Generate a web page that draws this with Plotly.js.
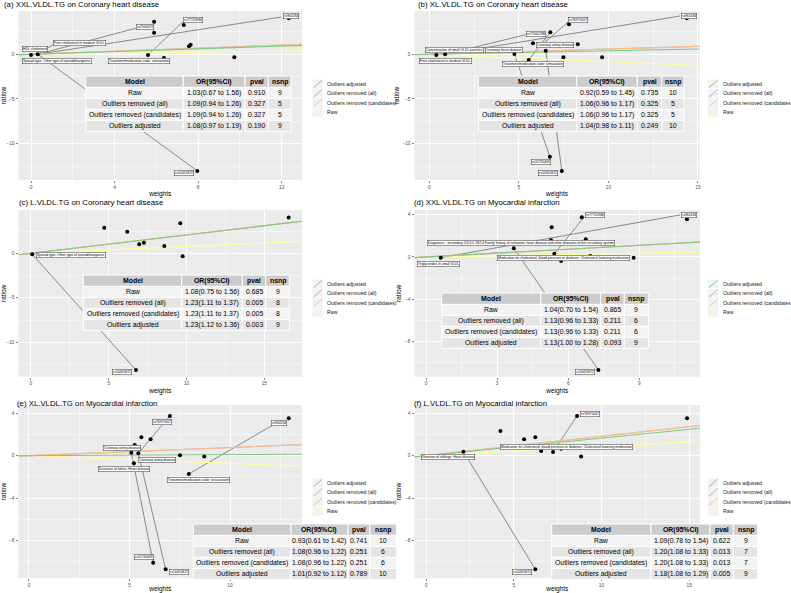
<!DOCTYPE html>
<html><head><meta charset="utf-8">
<script src="https://cdn.plot.ly/plotly-3.0.1.min.js"></script>
<style>html,body{margin:0;padding:0;background:#fff}#chart{width:791px;height:593px}</style>
</head><body><div id="chart"></div>
<script>
// ================= DATA =================
const panelTitles = [
  "(a) XXL.VLDL.TG on Coronary heart disease",
  "(b) XL.VLDL.TG on Coronary heart disease",
  "(c) L.VLDL.TG on Coronary heart disease",
  "(d) XXL.VLDL.TG on Myocardial infarction",
  "(e) XL.VLDL.TG on Myocardial infarction",
  "(f) L.VLDL.TG on Myocardial infarction"
];
const modelNames = ["Raw", "Outliers removed (all)", "Outliers removed (candidates)", "Outliers adjusted"];
const legendNames = ["Outliers adjusted", "Outliers removed (all)", "Outliers removed (candidates)", "Raw"];
const tableHeader = ["Model", "OR(95%CI)", "pval", "nsnp"];

// (a)
const aW = [0.00, 0.32, 5.89, 5.89, 7.31, 7.56, 7.64, 5.60, 6.36, 9.73, 7.96, 12.34];
const aR = [-0.08, 0.00, 3.65, 2.42, 3.28, 0.89, 1.07, -0.08, -0.41, -0.34, -13.05, 4.03];
const aLabText = ["HDL cholesterol", "Free cholesterol in medium VLDL", "rs2954029", "rs77720986",
  "Spread type: Other type of spread/margarine", "Treatment/medication code: simvastatin", "rs10455872", "rs964184"];
const aLabX = [0.18, 2.34, 5.45, 7.73, 1.23, 5.17, 7.32, 12.42];
const aLabY = [0.57, 1.29, 3.09, 3.84, -0.73, -0.73, -13.33, 4.30];
const aSegX0 = [0.32, 0.32, 1.07, 5.60, 0.32];
const aSegY0 = [0.00, 0.00, 1.10, -0.08, 0.00];
const aSegX1 = [5.06, 12.00, 0.32, 7.26, 7.96];
const aSegY1 = [2.94, 4.17, 0.00, 3.61, -13.05];
const aOR = [1.03, 1.09, 1.09, 1.08], aLo = [0.67, 0.94, 0.94, 0.97], aHi = [1.56, 1.26, 1.26, 1.19];
const aP = [0.910, 0.327, 0.327, 0.190], aN = [9, 5, 5, 9];

// (b)
const bW = [0.39, 0.88, 7.80, 6.76, 5.79, 6.28, 8.29, 4.75, 6.50, 5.55, 7.49, 9.65, 6.73, 7.40, 14.38];
const bR = [-0.08, 0.00, 3.35, 2.46, 1.23, 1.04, 1.12, 0.03, 0.40, -0.64, -0.34, -0.34, -11.45, -13.05, 4.03];
const bLabText = ["rs76975007", "rs72560788", "Concentration of small VLDL particles", "Coronary heart disease",
  "Coronary artery disease", "Free cholesterol in medium VLDL", "Treatment/medication code: simvastatin",
  "rs55730499", "rs10455872", "rs964184"];
const bLabX = [8.33, 5.98, 1.40, 4.19, 7.02, 0.92, 5.81, 6.26, 6.65, 14.49];
const bLabY = [3.87, 2.24, 0.50, 0.50, 1.04, -0.71, -1.14, -12.01, -13.33, 4.32];
const bSegX0 = [0.88, 0.88, 5.55, 6.28, 4.75, 6.50];
const bSegY0 = [0.00, 0.00, -0.64, 1.04, 0.03, 0.40];
const bSegX1 = [14.00, 5.40, 6.76, 7.75, 6.73, 7.40];
const bSegY1 = [4.28, 2.19, 2.46, 3.61, -11.45, -13.05];
const bOR = [0.92, 1.06, 1.06, 1.04], bLo = [0.59, 0.96, 0.96, 0.98], bHi = [1.45, 1.17, 1.17, 1.11];
const bP = [0.735, 0.325, 0.325, 0.249], bN = [10, 5, 5, 10];

// (c)
const cW = [0.08, 4.71, 6.19, 6.96, 7.26, 8.57, 9.60, 9.75, 16.56, 6.75];
const cR = [-0.11, 2.88, 2.43, 1.01, 1.19, 0.82, 3.37, -0.34, 4.04, -13.11];
const cLabText = ["Spread type: Other type of spread/margarine", "rs10455872"];
const cLabX = [2.56, 5.88];
const cLabY = [-0.15, -13.39];
const cSegX0 = [0.08], cSegY0 = [-0.11], cSegX1 = [6.75], cSegY1 = [-13.11];
const cOR = [1.08, 1.23, 1.23, 1.23], cLo = [0.75, 1.11, 1.11, 1.12], cHi = [1.56, 1.37, 1.37, 1.36];
const cP = [0.685, 0.005, 0.005, 0.003], cN = [9, 8, 8, 9];

// (d)
const dW = [0.62, 5.30, 6.57, 11.01, 5.27, 6.74, 3.70, 5.41, 6.93, 5.70, 8.76, 7.27];
const dR = [-0.07, 2.81, 3.76, 3.57, 1.58, 1.68, 0.82, 0.31, 0.09, -0.38, -0.07, -10.71];
const dLabText = ["rs77720986", "rs964184",
  "Diagnoses - secondary ICD10: Z82.4 Family history of ischaemic heart disease and other diseases of the circulatory system",
  "Triglycerides in small VLDL",
  "Medication for cholesterol, blood pressure or diabetes: Cholesterol lowering medication", "rs10455872"];
const dLabX = [7.12, 11.10, 4.00, 0.51, 5.78, 6.71];
const dLabY = [4.00, 4.00, 1.28, -0.66, -0.06, -10.93];
const dSegX0 = [0.62, 5.41, 3.70], dSegY0 = [-0.07, 0.31, 0.82];
const dSegX1 = [10.72, 6.67, 7.27], dSegY1 = [3.98, 3.76, -10.71];
const dOR = [1.04, 1.13, 1.13, 1.13], dLo = [0.70, 0.96, 0.96, 1.00], dHi = [1.54, 1.33, 1.33, 1.28];
const dP = [0.865, 0.211, 0.211, 0.093], dN = [9, 6, 6, 9];

// (e)
const eW = [7.01, 12.92, 5.59, 6.05, 5.26, 5.09, 5.44, 7.51, 8.72, 6.72, 5.22, 7.95, 6.18, 6.80];
const eR = [3.75, 3.53, 1.73, 1.55, 1.01, 0.28, 0.23, 0.04, -0.09, -0.41, -0.72, -1.73, -10.09, -10.72];
const eLabText = ["rs76975007", "rs964184", "Coronary artery disease", "Coronary artery disease",
  "Diseases of father: Heart disease", "Treatment/medication code: rosuvastatin", "rs55730499", "rs10455872"];
const eLabX = [6.63, 12.46, 4.65, 6.39, 4.71, 8.41, 5.73, 7.47];
const eLabY = [3.21, 3.04, 0.73, -0.41, -1.30, -2.25, -9.60, -10.95];
const eSegX0 = [5.44, 7.95, 5.09, 5.44], eSegY0 = [0.23, -1.73, 0.28, 0.23];
const eSegX1 = [7.01, 12.14, 6.18, 6.80], eSegY1 = [3.75, 2.90, -10.09, -10.72];
const eOR = [0.93, 1.08, 1.08, 1.01], eLo = [0.61, 0.96, 0.96, 0.92], eHi = [1.42, 1.22, 1.22, 1.12];
const eP = [0.741, 0.251, 0.251, 0.789], eN = [10, 6, 6, 10];

// (f)
const fW = [2.13, 4.24, 5.59, 6.23, 6.56, 7.24, 7.70, 8.61, 8.84, 14.88, 6.23];
const fR = [0.38, 2.33, 1.55, 1.74, 0.44, 0.35, 0.66, 3.75, -0.09, 3.53, -10.72];
const fLabText = ["rs76975007",
  "Medication for cholesterol, blood pressure or diabetes: Cholesterol lowering medication",
  "Illnesses of siblings: Heart disease", "rs10455872"];
const fLabX = [9.33, 8.03, 1.27, 5.48];
const fLabY = [3.92, 0.80, -0.10, -10.94];
const fSegX0 = [2.13, 7.24], fSegY0 = [0.38, 0.35];
const fSegX1 = [6.23, 8.61], fSegY1 = [-10.72, 3.75];
const fOR = [1.09, 1.20, 1.20, 1.18], fLo = [0.78, 1.08, 1.08, 1.08], fHi = [1.54, 1.33, 1.33, 1.29];
const fP = [0.622, 0.013, 0.013, 0.005], fN = [9, 7, 7, 9];

// ================= LAYOUT GEOMETRY (pixels) =================
const CW = 791, CH = 593;
const fx = p => p / CW, fy = p => 1 - p / CH;
const panelBox = [[18.5, 11, 302, 180], [414.5, 11, 699.5, 180], [18.5, 210, 302, 376.7],
                  [414.5, 210, 700, 376.7], [18.5, 405, 302, 578], [414.5, 405, 700, 578]];
const xRanges = [[-0.6, 12.97], [-0.83, 15.09], [-0.8, 17.42], [-0.49, 11.56], [-0.52, 13.58], [-0.66, 15.62]];
const yRanges = [[-14.06, 4.84], [-14.06, 4.84], [-13.87, 4.87], [-11.35, 4.45], [-11.54, 4.78], [-11.54, 4.78]];
const xDticks = [4, 5, 5, 3, 5, 5];
const yDticks = [5, 5, 5, 4, 4, 4];
const tableBox = [[85.7, 76, 291], [478.3, 76, 684], [83.3, 275, 289.3],
                  [441.7, 293, 648.3], [193.3, 524, 396.5], [551.7, 524, 757.7]];
const tableColW = [[97.6, 61.7, 23.3, 22.7], [98.4, 60.6, 24.4, 22.3], [98.4, 60.6, 23.4, 23.6],
                   [99, 60, 23.6, 24], [98, 57, 22, 26.7], [99.3, 59, 23.3, 24.4]];
const rowH = [11.4, 11, 11, 11, 11];
const titlePos = [[1.7, 5], [416, 5], [17, 202], [412, 202], [15, 403.5], [411.7, 403.5]];
const legendPos = [[312.5, 79.5], [708, 79.5], [312.5, 279.5], [708, 279.5], [312.5, 478.5], [708, 478.5]];

const FONT = "Liberation Sans, Arial, sans-serif";
const modelColors = ["#FFFF99", "#BEAED4", "#FDC086", "#7FC97F"]; // raw, all, cand, adjusted
const legendOrder = [3, 1, 2, 0];

const Wts = [aW, bW, cW, dW, eW, fW], Rats = [aR, bR, cR, dR, eR, fR];
const LabT = [aLabText, bLabText, cLabText, dLabText, eLabText, fLabText];
const LabX = [aLabX, bLabX, cLabX, dLabX, eLabX, fLabX];
const LabY = [aLabY, bLabY, cLabY, dLabY, eLabY, fLabY];
const SX0 = [aSegX0, bSegX0, cSegX0, dSegX0, eSegX0, fSegX0];
const SY0 = [aSegY0, bSegY0, cSegY0, dSegY0, eSegY0, fSegY0];
const SX1 = [aSegX1, bSegX1, cSegX1, dSegX1, eSegX1, fSegX1];
const SY1 = [aSegY1, bSegY1, cSegY1, dSegY1, eSegY1, fSegY1];
const ORs = [aOR, bOR, cOR, dOR, eOR, fOR], LOs = [aLo, bLo, cLo, dLo, eLo, fLo], HIs = [aHi, bHi, cHi, dHi, eHi, fHi];
const PVs = [aP, bP, cP, dP, eP, fP], NSs = [aN, bN, cN, dN, eN, fN];

const traces = [], annotations = [], shapes = [];
const layout = {
  width: CW, height: CH, margin: {l: 0, r: 0, t: 0, b: 0},
  paper_bgcolor: "#ffffff", plot_bgcolor: "#EBEBEB",
  font: {family: FONT, color: "#000"}, showlegend: false
};

for (let k = 0; k < 6; k++) {
  const sfx = k === 0 ? "" : String(k + 1);
  const xa = "x" + sfx, ya = "y" + sfx;
  const [L, T, R, B] = panelBox[k];
  const axCommon = {
    showgrid: true, gridcolor: "#FFFFFF", gridwidth: 0.9, zeroline: false, showline: false,
    ticks: "outside", ticklen: 2, tickwidth: 0.6, tickcolor: "#333333", tick0: 0,
    tickfont: {family: FONT, size: 4.8, color: "#4D4D4D"}
  };
  layout["xaxis" + sfx] = Object.assign({}, axCommon, {
    domain: [fx(L), fx(R)], range: xRanges[k], anchor: ya, dtick: xDticks[k],
    minor: {showgrid: true, gridcolor: "#FFFFFF", gridwidth: 0.45, dtick: xDticks[k] / 2, tick0: 0},
    title: {text: "weights", font: {family: FONT, size: 6.5, color: "#000"}, standoff: 2}
  });
  layout["yaxis" + sfx] = Object.assign({}, axCommon, {
    domain: [fy(B), fy(T)], range: yRanges[k], anchor: xa, dtick: yDticks[k],
    minor: {showgrid: true, gridcolor: "#FFFFFF", gridwidth: 0.45, dtick: yDticks[k] / 2, tick0: 0},
    title: {text: "ratiow", font: {family: FONT, size: 6.5, color: "#000"}, standoff: 2}
  });

  // label segments
  const sx = [], sy = [];
  for (let i = 0; i < SX0[k].length; i++) {
    sx.push(SX0[k][i], SX1[k][i], null);
    sy.push(SY0[k][i], SY1[k][i], null);
  }
  traces.push({type: "scatter", mode: "lines", x: sx, y: sy, xaxis: xa, yaxis: ya,
    line: {color: "#5E5E5E", width: 0.7}, hoverinfo: "skip", showlegend: false});

  // fitted lines through origin, slope = log(OR)
  const xr = xRanges[k];
  for (let m = 0; m < 4; m++) {
    const b = Math.log(ORs[k][m]);
    traces.push({type: "scatter", mode: "lines", x: [xr[0], xr[1]], y: [b * xr[0], b * xr[1]],
      xaxis: xa, yaxis: ya, line: {color: modelColors[m], width: 1.1}, hoverinfo: "skip",
      name: modelNames[m], showlegend: false});
  }

  // points
  traces.push({type: "scatter", mode: "markers", x: Wts[k], y: Rats[k], xaxis: xa, yaxis: ya,
    marker: {color: "#000", size: 4}, hoverinfo: "skip", showlegend: false});

  // labels
  for (let i = 0; i < LabT[k].length; i++) {
    annotations.push({xref: xa, yref: ya, x: LabX[k][i], y: LabY[k][i], text: LabT[k][i],
      showarrow: false, font: {family: FONT, size: 3.4, color: "#000"}, bgcolor: "#FFFFFF",
      bordercolor: "#333333", borderwidth: 0.5, borderpad: 0.6});
  }

  // title
  annotations.push({xref: "paper", yref: "paper", x: fx(titlePos[k][0]), y: fy(titlePos[k][1]),
    xanchor: "left", yanchor: "middle", text: panelTitles[k], showarrow: false,
    font: {family: FONT, size: 7.8, color: "#000"}});

  // legend (ggplot style keys)
  const [lx, lt] = legendPos[k];
  for (let j = 0; j < 4; j++) {
    const m = legendOrder[j];
    const top = lt + j * 9.4, bot = top + 9;
    shapes.push({type: "rect", xref: "paper", yref: "paper", x0: fx(lx), x1: fx(lx + 10.5),
      y0: fy(bot), y1: fy(top), fillcolor: "#F2F2F2", line: {width: 0}, layer: "above"});
    shapes.push({type: "line", xref: "paper", yref: "paper", x0: fx(lx + 1), x1: fx(lx + 9.5),
      y0: fy(bot - 0.8), y1: fy(top + 0.8), line: {color: modelColors[m], width: 1}, layer: "above"});
    annotations.push({xref: "paper", yref: "paper", x: fx(lx + 12.5), y: fy(top + 4.5),
      xanchor: "left", yanchor: "middle", text: legendNames[j], showarrow: false,
      font: {family: FONT, size: 5.2, color: "#1A1A1A"}});
  }

  // table (gridExtra-like), built from the table arrays
  const orStr = ORs[k].map((v, i) => v.toFixed(2) + "(" + LOs[k][i].toFixed(2) + " to " + HIs[k][i].toFixed(2) + ")");
  const pStr = PVs[k].map(v => v.toFixed(3));
  const nStr = NSs[k].map(v => String(v));
  const rows = [tableHeader.map(h => "<b>" + h + "</b>")];
  for (let r = 0; r < 4; r++) rows.push([modelNames[r], orStr[r], pStr[r], nStr[r]]);
  const rowFill = ["#CCCCCC", "#F2F2F2", "#E5E5E5", "#F2F2F2", "#E5E5E5"];
  const [tL, tT, tR] = tableBox[k];
  const cw = tableColW[k];
  const tot = cw.reduce((s, v) => s + v, 0);
  const edges = [tL];
  cw.forEach(w => edges.push(edges[edges.length - 1] + w * (tR - tL) / tot));
  let y = tT;
  for (let r = 0; r < rows.length; r++) {
    const h = rowH[r];
    for (let c = 0; c < 4; c++) {
      shapes.push({type: "rect", xref: "paper", yref: "paper", layer: "above",
        x0: fx(edges[c]), x1: fx(edges[c + 1]), y0: fy(y + h), y1: fy(y),
        fillcolor: rowFill[r], line: {color: "#FFFFFF", width: 1}});
      annotations.push({xref: "paper", yref: "paper", x: fx((edges[c] + edges[c + 1]) / 2),
        y: fy(y + h / 2), xanchor: "center", yanchor: "middle", text: rows[r][c], showarrow: false,
        font: {family: FONT, size: 6.9, color: "#000"}});
    }
    y += h;
  }
}
layout.annotations = annotations;
layout.shapes = shapes;

Plotly.newPlot("chart", traces, layout, {displayModeBar: false, staticPlot: true});
</script>
</body></html>
